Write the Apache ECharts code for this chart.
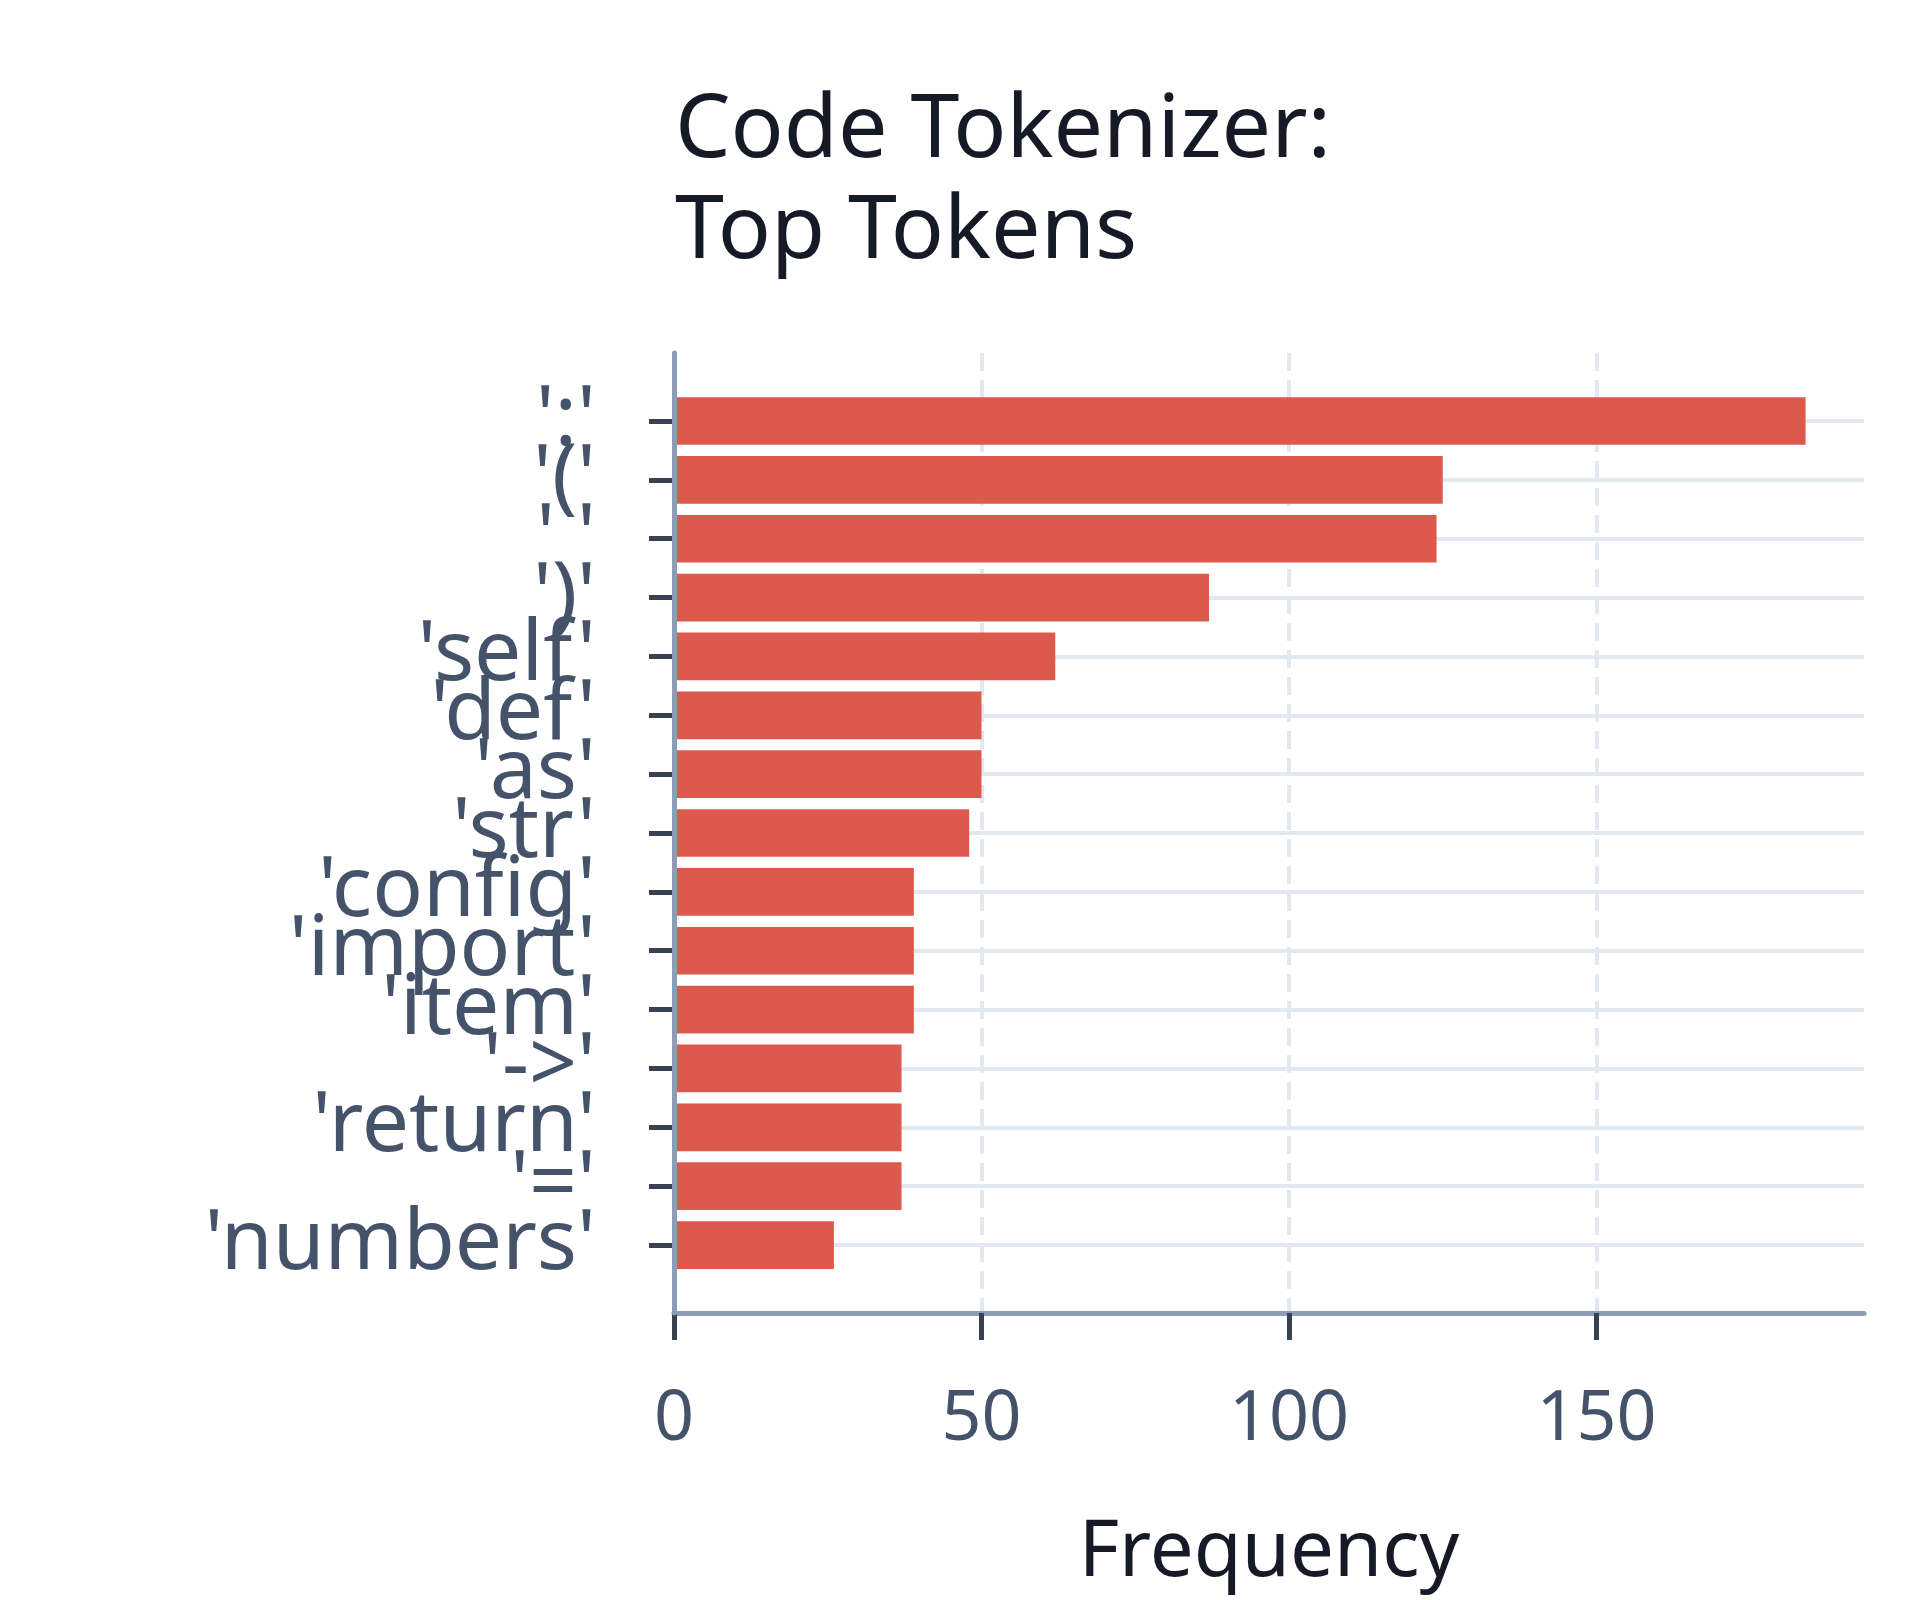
<!DOCTYPE html>
<html>
<head>
<meta charset="utf-8">
<script src="https://cdn.jsdelivr.net/npm/echarts@6/dist/echarts.min.js"></script>
<style>
  html, body { margin: 0; padding: 0; background: #ffffff; }
  #chart { width: 1920px; height: 1600px; }
</style>
</head>
<body>
<div id="chart"></div>
<script>
const titleText = 'Code Tokenizer:\nTop Tokens';
const axisTitle = 'Frequency';
const categories = ["':'", "'('", "' '", "')'", "'self'", "'def'", "'as'", "'str'", "'config'", "'import'", "'item'", "'->'", "'return'", "'='", "'numbers'"];
const frequency = [184, 125, 124, 87, 62, 50, 50, 48, 39, 39, 39, 37, 37, 37, 26];
const xTickValues = [0, 50, 100, 150];
const xMax = 193.5;

const FONT = 'Noto Sans';
const LEFT = 674, RIGHT = 1920 - 1864;
const pitch = 58.86;
const firstCenter = 421;
const n = categories.length;

const chart = echarts.init(document.getElementById('chart'), null, { renderer: 'canvas' });

const option = {
  backgroundColor: '#ffffff',
  animation: false,
  title: {
    text: titleText,
    left: 670,
    top: 76,
    textStyle: { fontFamily: FONT, fontSize: 88, fontWeight: 'normal', lineHeight: 101, color: '#161a26' }
  },
  grid: [
    { left: LEFT, right: RIGHT, top: 353, height: 1313 - 353 },
    { left: LEFT, right: RIGHT, top: firstCenter - pitch / 2, height: pitch * n },
    { left: LEFT, right: RIGHT, top: firstCenter, height: pitch * (n - 1) }
  ],
  xAxis: [
    {
      gridIndex: 0, type: 'value', min: 0, max: xMax, interval: 50, z: 0,
      name: axisTitle, nameLocation: 'middle', nameGap: 202,
      nameTextStyle: { fontFamily: FONT, fontSize: 78, color: '#161a26' },
      axisLine: { show: true, onZero: false, lineStyle: { color: '#8d9db5', width: 5 } },
      axisTick: { show: true, length: 27, customValues: xTickValues, lineStyle: { color: '#374151', width: 5 } },
      axisLabel: { show: true, margin: 72, customValues: xTickValues, fontFamily: FONT, fontSize: 70, color: '#44536a' },
      splitLine: { show: true, lineStyle: { color: '#e2e8f0', width: 4, type: [18, 9] } }
    },
    { gridIndex: 1, type: 'value', min: 0, max: xMax, show: false },
    { gridIndex: 2, type: 'value', min: 0, max: xMax, show: false }
  ],
  yAxis: [
    {
      gridIndex: 0, type: 'value', min: 0, max: 1, z: 5,
      axisLine: { show: true, onZero: false, lineStyle: { color: '#8d9db5', width: 5 } },
      axisTick: { show: false }, axisLabel: { show: false }, splitLine: { show: false }
    },
    { gridIndex: 1, type: 'category', data: categories, inverse: true, show: false },
    {
      gridIndex: 2, type: 'category', data: categories, inverse: true, boundaryGap: false, z: 1,
      axisLine: { show: false },
      axisTick: { show: true, interval: 0, length: 25, lineStyle: { color: '#374151', width: 5 } },
      axisLabel: { show: true, interval: 0, margin: 78, fontFamily: FONT, fontSize: 84, color: '#44536a' },
      splitLine: { show: true, interval: 0, lineStyle: { color: '#e2e8f0', width: 4 } }
    }
  ],
  series: [
    {
      type: 'bar',
      xAxisIndex: 1, yAxisIndex: 1,
      data: frequency,
      barWidth: '81%',
      itemStyle: { color: '#dc594e' },
      z: 3
    }
  ]
};
chart.setOption(option);
</script>
</body>
</html>
